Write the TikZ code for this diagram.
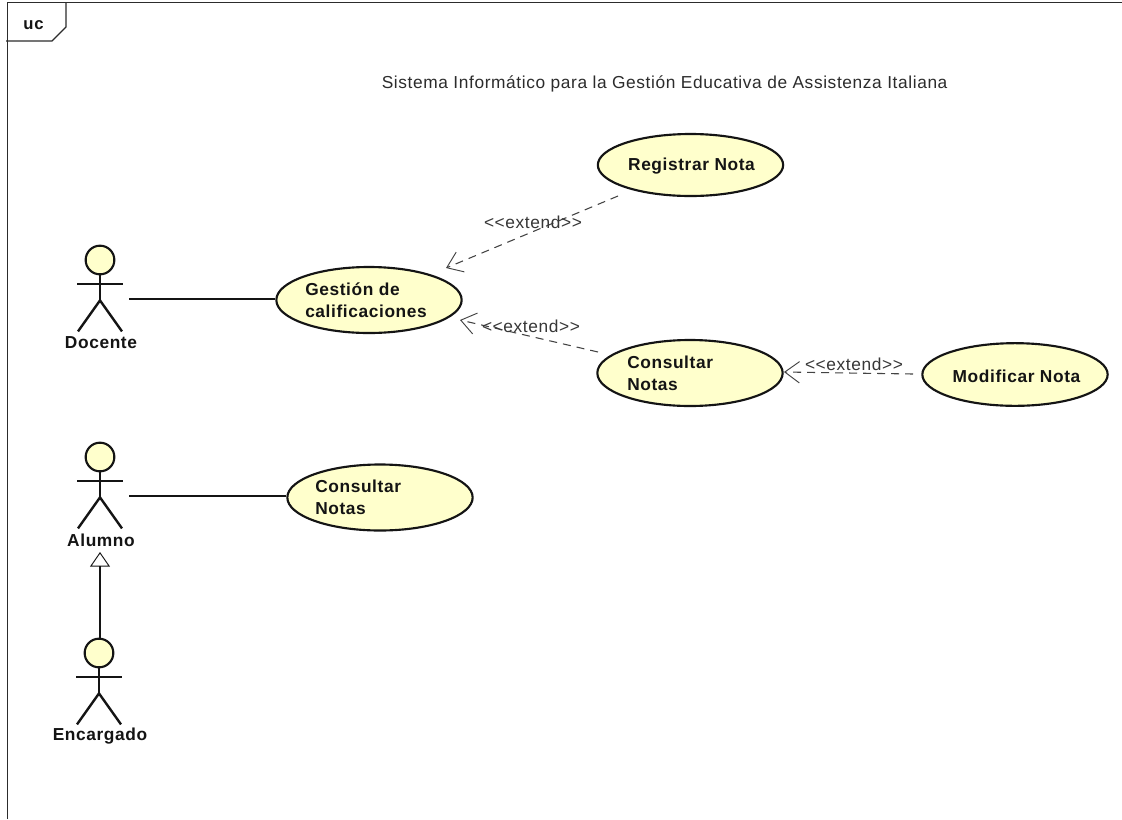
\documentclass[tikz,border=0pt]{standalone}
\usepackage{fontspec}
\setmainfont{Liberation Sans}
\newfontfamily\boldspaced[LetterSpace=3.5]{Liberation Sans}
\newfontfamily\plainspaced[LetterSpace=3.5]{Liberation Sans}
\usetikzlibrary{arrows.meta,shapes.geometric}
\definecolor{ucfill}{RGB}{255,255,204}
\definecolor{ink}{RGB}{20,20,20}
\tikzset{
  x=0.75pt,y=-0.75pt,
  usecase/.style={draw=ink,line width=1.6pt,fill=ucfill,ellipse,minimum width=139pt,minimum height=49.5pt,inner sep=0pt},
  uclabel/.style={font=\boldspaced\fontsize{13}{16.5}\selectfont\bfseries,align=left,text=ink,inner sep=0pt},
  actorlabel/.style={font=\boldspaced\fontsize{13}{14}\selectfont\bfseries,text=ink,inner sep=0pt},
  actorhead/.style={draw=ink,line width=1.6pt,fill=ucfill,circle,minimum size=21.5pt,inner sep=0pt},
  limb/.style={draw=ink,line width=1.8pt},
  assoc/.style={draw=ink,line width=0.8pt},
  extendline/.style={draw=ink!80,line width=0.8pt,dash pattern=on 6pt off 4.5pt,-{Straight Barb[length=11pt,width=16pt,line width=0.7pt]}},
  extendlabel/.style={font=\plainspaced\fontsize{13}{14}\selectfont,text=ink!85,inner sep=0pt},
  framestroke/.style={draw=ink!90,line width=0.9pt},
}
\newcommand{\stickfigure}[1]{%
  \draw[limb] (#1.south) -- ++(0,25) coordinate (#1hip);
  \draw[limb] ([xshift=-17.25pt,yshift=-6.5pt]#1.south) -- ([xshift=17.25pt,yshift=-6.5pt]#1.south);
  \draw[limb] (#1hip) -- ++(-22,31);
  \draw[limb] (#1hip) -- ++(22,31);
}
\begin{document}
\begin{tikzpicture}
\useasboundingbox (0,0) rectangle (1122,819);
\fill[white] (0,0) rectangle (1122,819);
% frame
\draw[framestroke] (7.5,819) -- (7.5,2.5) -- (1122,2.5);
\draw[framestroke] (66,2.5) -- (66,27) -- (52,41) -- (6,41);
\node[font=\boldspaced\fontsize{12.5}{14}\selectfont\bfseries,text=ink,inner sep=0pt] (uc) at (33.5,25.5) {uc};
\node[font=\plainspaced\fontsize{13}{14}\selectfont,text=ink!90,inner sep=0pt,anchor=west] (title) at (381.5,84) {Sistema Informático para la Gestión Educativa de Assistenza Italiana};
% use cases
\node[usecase] (gestion) at (369,300) {};
\node[usecase,minimum height=46.5pt] (registrar) at (690.5,165) {};
\node[usecase] (consultarA) at (690,373) {};
\node[usecase,minimum height=47pt] (modificar) at (1015,374.5) {};
\node[usecase] (consultarB) at (380,497.5) {};
\node[uclabel,anchor=west] (tgestion) at (305,300.5) {Gestión de\\calificaciones};
\node[uclabel] (tregistrar) at (691.5,166) {Registrar Nota};
\node[uclabel,anchor=west] (tconsultarA) at (627,373) {Consultar\\Notas};
\node[uclabel] (tmodificar) at (1016.5,376) {Modificar Nota};
\node[uclabel,anchor=west] (tconsultarB) at (315,497.5) {Consultar\\Notas};
% actors
\node[actorhead] (docente) at (100,260) {};
\node[actorhead] (alumno) at (100,457) {};
\node[actorhead] (encargado) at (99,653) {};
\stickfigure{docente}
\stickfigure{alumno}
\stickfigure{encargado}
\node[actorlabel] (ldocente) at (101,343) {Docente};
\node[actorlabel] (lalumno) at (101,540) {Alumno};
\node[actorlabel] (lencargado) at (100,736) {Encargado};
% connectors
\coordinate (docenteport) at (129,299);
\coordinate (alumnoport) at (129,496);
\draw[assoc] (docenteport) -- (gestion.west |- docenteport);
\draw[assoc] (alumnoport) -- (consultarB.west |- alumnoport);
\coordinate (genapex) at (100,552);
\draw[assoc,-{Triangle[open,length=11pt,width=15pt,line width=0.7pt]}] (genapex |- encargado.north) -- (genapex);
\coordinate (regfrom) at (618,196);
\coordinate (regto) at (446,268);
\coordinate (conafrom) at (598,352);
\coordinate (conato) at (460,320);
\coordinate (modfrom) at (913,374);
\coordinate (modto) at (784,372);
\draw[extendline] (regfrom) -- (regto);
\draw[extendline] (conafrom) -- (conato);
\draw[extendline] (modfrom) -- (modto);
\node[extendlabel] (e1) at (533,222) {<{}<extend>{}>};
\node[extendlabel] (e2) at (531,326) {<{}<extend>{}>};
\node[extendlabel] (e3) at (854,364) {<{}<extend>{}>};
\end{tikzpicture}
\end{document}
